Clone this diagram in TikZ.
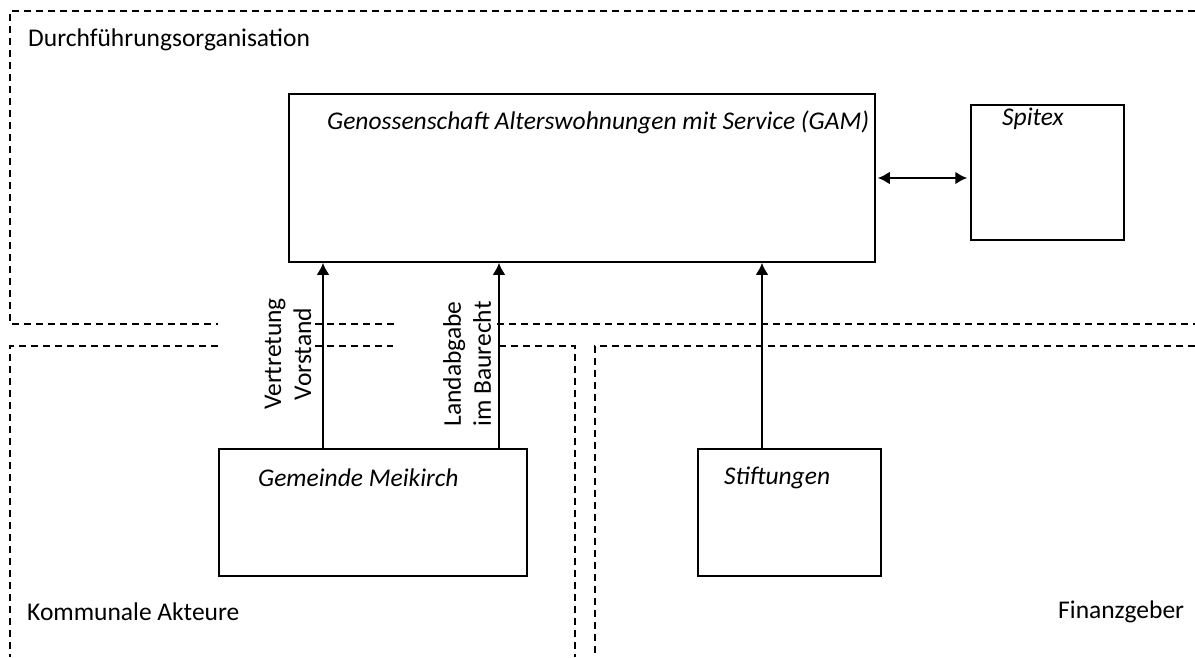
\documentclass[tikz,border=0pt]{standalone}
\usepackage{fontspec}
\setmainfont{Carlito}
\usetikzlibrary{arrows.meta}
\begin{document}
\begin{tikzpicture}[x=1pt,y=-1pt,
  every node/.style={font=\fontsize{25.5}{30}\selectfont, inner sep=0pt},
  region/.style={draw=black, line width=1.2pt, dash pattern=on 7pt off 5pt},
  box/.style={draw=black, line width=1.5pt, minimum width=0pt, minimum height=0pt, rectangle},
  arr/.style={line width=2.5pt, -{Latex[length=12pt,width=13pt]}},
  darr/.style={line width=2.5pt, {Latex[length=12pt,width=13pt]}-{Latex[length=12pt,width=13pt]}, shorten <=2pt, shorten >=3pt},
  lbl/.style={anchor=west},
  ital/.style={anchor=west, font=\fontsize{25.5}{30}\selectfont\itshape}
]
\useasboundingbox (0,0) rectangle (1195,657);
% regions
\draw[region] (1195,11) -- (10,11) -- (10,324) -- (218,324);
\draw[region] (315,324) -- (395,324);
\draw[region] (497,324) -- (1195,324);
\draw[region] (218,346) -- (10,346) -- (10,657);
\draw[region] (315,346) -- (393,346);
\draw[region] (499,346) -- (575,346) -- (575,657);
\draw[region] (1195,346) -- (595,346) -- (595,657);
% region labels
\node[lbl] (tdurch) at (28,40) {Durchführungsorganisation};
\node[lbl] (tkomm) at (27,612) {Kommunale Akteure};
\node[lbl] (tfin) at (1058,612) {Finanzgeber};
% boxes
\node[box, minimum width=586pt, minimum height=168pt] (gam) at (582,178) {};
\node[box, minimum width=153pt, minimum height=135pt] (spitex) at (1047.5,172.5) {};
\node[box, minimum width=308pt, minimum height=127pt] (gem) at (373,512.5) {};
\node[box, minimum width=183pt, minimum height=127pt] (stift) at (789.5,512.5) {};
% box texts
\node[ital] (tgam) at (327,122) {Genossenschaft Alterswohnungen mit Service (GAM)};
\node[ital] (tspitex) at (1002,119) {Spitex};
\node[ital] (tgem) at (258,478) {Gemeinde Meikirch};
\node[ital] (tstift) at (724,478) {Stiftungen};
% arrow x positions
\coordinate (ax1) at (323,0);
\coordinate (ax2) at (499,0);
\coordinate (ax3) at (762,0);
\draw[arr] (gem.north -| ax1) -- (gam.south -| ax1);
\draw[arr] (gem.north -| ax2) -- (gam.south -| ax2);
\draw[arr] (stift.north -| ax3) -- (gam.south -| ax3);
\draw[darr] (gam.east) -- (spitex.west |- gam.east);
% arrow labels
\node[rotate=90, align=center] (tvert) at (288,354) {Vertretung\\Vorstand};
\node[rotate=90, align=center] (tland) at (467,364) {Landabgabe\\im Baurecht};
\end{tikzpicture}
\end{document}
